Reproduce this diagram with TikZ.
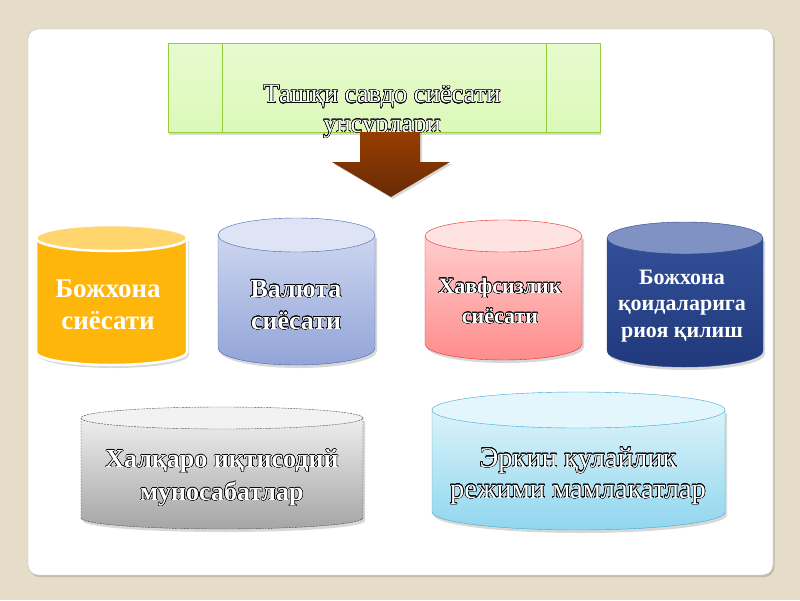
\documentclass[tikz,border=0pt]{standalone}
\usepackage{fontspec}
\setmainfont{Liberation Serif}
\usepackage[copies]{contour}
\contourlength{0.45pt}
\contournumber{20}
\usetikzlibrary{shadows,calc,positioning}

\definecolor{paper}{RGB}{229,221,200}
\definecolor{leaf}{RGB}{220,249,185}
\definecolor{leafline}{RGB}{150,205,60}
\definecolor{rust}{RGB}{150,62,0}
\definecolor{rustdark}{RGB}{105,42,6}

\tikzset{
  card/.style={fill=white, draw=black!25, rounded corners=10pt,
    drop shadow={opacity=0.35, shadow xshift=1.5pt, shadow yshift=-2pt}},
  headbox/.style={rectangle, draw=leafline, line width=1pt, top color=leaf!70!white,
    bottom color=leaf, minimum width=432pt, minimum height=89pt,
    drop shadow={opacity=0.3, shadow xshift=1pt, shadow yshift=-2.5pt}},
  blockarrow/.style={top color=rust, bottom color=rustdark,
    drop shadow={opacity=0.3, shadow xshift=2pt, shadow yshift=-2pt}},
  outtext/.style={align=center, text=white, inner sep=0pt},
  shadowed/.style={drop shadow={opacity=0.3, shadow xshift=2pt, shadow yshift=-3pt}},
}
\newcommand\outl[1]{\contour{black}{#1}}
% #1 x centre, #2 lid y, #3 base y, #4 x radius, #5 y radius, #6 body, #7 lid
\newcommand\drum[7]{%
  \path[shadowed,#6] (#1-#4,#2) -- (#1-#4,#3)
    arc[start angle=180,end angle=360,x radius=#4pt,y radius=#5pt] -- (#1+#4,#2) -- cycle;
  \path[#7] (#1,#2) ellipse[x radius=#4pt,y radius=#5pt];}

\begin{document}
\begin{tikzpicture}[x=1pt,y=-1pt]
\useasboundingbox (0,0) rectangle (800,600);
\fill[paper] (0,0) rectangle (800,600);
\path[card] (28,29) rectangle (773,575);

% title
\node[headbox] (head) at (384,87.5) {};
\draw[leafline] ($(head.north west)+(55,0)$) -- ($(head.south west)+(55,0)$);
\draw[leafline] ($(head.north east)+(-54,0)$) -- ($(head.south east)+(-54,0)$);
\node[outtext, font=\fontsize{26.5}{29.5}\selectfont] (title) at (382,112)
  {\outl{Ташқи савдо сиёсати}\\\outl{унсурлари}};
\path[blockarrow] (360,132) -- (420,132) -- (420,162) -- (450,162) -- (391,197)
  -- (332,162) -- (360,162) -- cycle;

% upper row
\drum{111.5}{238}{352}{75.5}{13}
  {fill={rgb,255:red,255;green,182;blue,10}, draw=white, line width=2.5pt}
  {fill={rgb,255:red,255;green,214;blue,110}, draw=white, line width=2.5pt}
\node[outtext, font=\bfseries\fontsize{27}{32}\selectfont] (customs) at (108,305)
  {Божхона\\сиёсати};

\drum{296.5}{235}{348}{78.5}{17}
  {top color={rgb,255:red,205;green,214;blue,240}, bottom color={rgb,255:red,146;green,164;blue,216},
   draw={rgb,255:red,70;green,100;blue,170}}
  {fill={rgb,255:red,222;green,228;blue,245}, draw={rgb,255:red,70;green,100;blue,170}}
\node[outtext, font=\bfseries\fontsize{26}{32}\selectfont] (currency) at (296,305)
  {\outl{Валюта}\\\outl{сиёсати}};

\drum{503.5}{236}{344}{78.5}{16}
  {top color={rgb,255:red,255;green,205;blue,205}, bottom color={rgb,255:red,255;green,140;blue,140},
   draw={rgb,255:red,230;green,40;blue,40}}
  {fill={rgb,255:red,255;green,226;blue,226}, draw={rgb,255:red,230;green,40;blue,40}}
\node[outtext, font=\bfseries\fontsize{22}{30}\selectfont] (safety) at (500,301)
  {\outl{Хавфсизлик}\\\outl{сиёсати}};

\drum{685}{238}{351}{78}{16}
  {top color={rgb,255:red,50;green,80;blue,152}, bottom color={rgb,255:red,33;green,57;blue,124},
   draw={rgb,255:red,45;green,70;blue,140}}
  {fill={rgb,255:red,128;green,146;blue,196}, draw={rgb,255:red,45;green,70;blue,140}}
\node[outtext, font=\bfseries\fontsize{22}{26.5}\selectfont] (rules) at (682,306)
  {Божхона\\қоидаларига\\риоя қилиш};

% lower row
\drum{222}{418}{518}{141}{11}
  {top color={rgb,255:red,238;green,238;blue,238}, bottom color={rgb,255:red,165;green,165;blue,165},
   draw=black!75, dash pattern=on 2pt off 1pt}
  {fill={rgb,255:red,242;green,242;blue,242}, draw=black!75, dash pattern=on 2pt off 1pt}
\node[outtext, font=\bfseries\fontsize{26}{33}\selectfont] (economy) at (222,478)
  {\outl{Халқаро иқтисодий}\\\outl{муносабатлар}};

\drum{578.5}{410}{512}{146.5}{18}
  {top color={rgb,255:red,218;green,243;blue,250}, bottom color={rgb,255:red,145;green,214;blue,238},
   draw={rgb,255:red,60;green,170;blue,210}}
  {fill={rgb,255:red,226;green,246;blue,252}, draw={rgb,255:red,60;green,170;blue,210}}
\node[outtext, font=\fontsize{28.5}{31}\selectfont] (tradezone) at (578,476)
  {\outl{Эркин қулайлик}\\\outl{режими мамлакатлар}};
\end{tikzpicture}
\end{document}
